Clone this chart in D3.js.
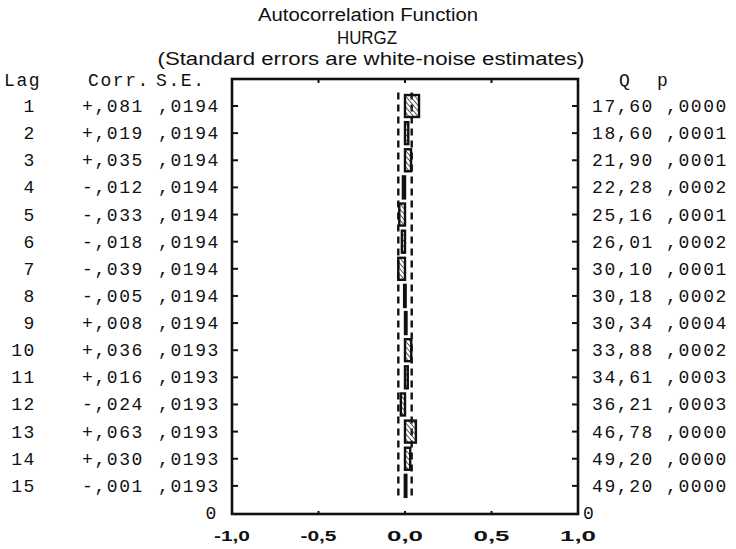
<!DOCTYPE html>
<html>
<head>
<meta charset="utf-8">
<script src="https://cdn.jsdelivr.net/npm/d3@7"></script>
<style>
  body { margin: 0; background: #fff; }
  .mono { font-family: "Liberation Mono", "DejaVu Sans Mono", monospace; font-size: 18px; letter-spacing: 1.6px; fill: #111; }
  .sans { font-family: "Liberation Sans", Arial, sans-serif; fill: #111; }
</style>
</head>
<body>
<script>
// data
var lags = [1, 2, 3, 4, 5, 6, 7, 8, 9, 10, 11, 12, 13, 14, 15];
var corrLabels = ["+,081", "+,019", "+,035", "-,012", "-,033", "-,018", "-,039", "-,005", "+,008", "+,036", "+,016", "-,024", "+,063", "+,030", "-,001"];
var corr = [0.081, 0.019, 0.035, -0.012, -0.033, -0.018, -0.039, -0.005, 0.008, 0.036, 0.016, -0.024, 0.063, 0.030, -0.001];
var seLabels = [",0194", ",0194", ",0194", ",0194", ",0194", ",0194", ",0194", ",0194", ",0194", ",0193", ",0193", ",0193", ",0193", ",0193", ",0193"];
var se = [0.0194, 0.0194, 0.0194, 0.0194, 0.0194, 0.0194, 0.0194, 0.0194, 0.0194, 0.0193, 0.0193, 0.0193, 0.0193, 0.0193, 0.0193];
var qLabels = ["17,60", "18,60", "21,90", "22,28", "25,16", "26,01", "30,10", "30,18", "30,34", "33,88", "34,61", "36,21", "46,78", "49,20", "49,20"];
var pLabels = [",0000", ",0001", ",0001", ",0002", ",0001", ",0002", ",0001", ",0002", ",0004", ",0002", ",0003", ",0003", ",0000", ",0000", ",0000"];
var xTicks = [-1, -0.5, 0, 0.5, 1];
var xTickLabels = ["-1,0", "-0,5", "0,0", "0,5", "1,0"];

(function(d3) {
  var width = 736,
      height = 549;

  var svg = d3.select("body").append("svg")
      .attr("width", width)
      .attr("height", height);

  var fLeft = 232, fRight = 578, fTop = 79, fBottom = 514;

  var x = d3.scaleLinear().domain([-1, 1]).range([fLeft, fRight]);
  // row 16 is the "0" line at the bottom of the frame
  var y = d3.scaleLinear().domain([1, 16]).range([106, 513]);
  var rowH = y(2) - y(1);

  // hatch fill for the bars
  svg.append("defs").append("pattern")
      .attr("id", "hatch")
      .attr("patternUnits", "userSpaceOnUse")
      .attr("width", 3.5).attr("height", 3.5)
      .attr("patternTransform", "rotate(-40)")
    .append("line")
      .attr("x1", 0).attr("y1", 0).attr("x2", 0).attr("y2", 3.5)
      .attr("stroke", "#444").attr("stroke-width", 1.7);

  function sans(txt, cx, by, w, size, weight) {
    svg.append("text").attr("class", "sans")
      .attr("x", cx).attr("y", by)
      .attr("text-anchor", "middle")
      .attr("font-size", size)
      .attr("font-weight", weight || "normal")
      .attr("textLength", w)
      .attr("lengthAdjust", "spacingAndGlyphs")
      .text(txt);
  }

  function mono(txt, xx, yy, anchor) {
    svg.append("text").attr("class", "mono")
      .attr("x", xx).attr("y", yy)
      .attr("text-anchor", anchor || "end")
      .text(txt);
  }

  // titles
  sans("Autocorrelation Function", 368, 21, 220, 18);
  sans("HURGZ", 367, 44, 60, 19);
  sans("(Standard errors are white-noise estimates)", 371, 65, 427, 18);

  // column headers
  mono("Lag", 4, 86, "start");
  mono("Corr.", 88, 86, "start");
  mono("S.E.", 156, 86, "start");
  mono("Q", 619, 86, "start");
  mono("p", 657, 86, "start");

  // table rows
  lags.forEach(function(l, i) {
    var yy = y(l) + 6;
    mono(String(l), 36, yy);
    mono(corrLabels[i], 144, yy);
    mono(seLabels[i], 220, yy);
    mono(qLabels[i], 654, yy);
    mono(pLabels[i], 728, yy);
  });
  mono("0", 218, y(16) + 6);
  mono("0", 583, y(16) + 6, "start");

  // confidence bands (+-2 S.E.), dashed
  var band = d3.line().x(function(d) { return d[0]; }).y(function(d) { return d[1]; });
  [1, -1].forEach(function(sign) {
    var pts = [];
    lags.forEach(function(l, i) {
      pts.push([x(sign * 2 * se[i]), y(l) - rowH / 2]);
      pts.push([x(sign * 2 * se[i]), y(l) + rowH / 2]);
    });
    svg.append("path")
      .attr("d", band(pts))
      .attr("fill", "none")
      .attr("stroke", "#111")
      .attr("stroke-width", 2.4)
      .attr("stroke-dasharray", "7,5");
  });

  // bars
  var barH = 22;
  svg.selectAll("rect.bar")
      .data(corr)
    .enter().append("rect")
      .attr("class", "bar")
      .attr("x", function(d) { return Math.min(x(0), x(d)); })
      .attr("width", function(d) { return Math.max(1.5, Math.abs(x(d) - x(0))); })
      .attr("y", function(d, i) { return y(lags[i]) - barH / 2; })
      .attr("height", barH)
      .attr("fill", "url(#hatch)")
      .attr("stroke", "#111")
      .attr("stroke-width", 2.4);

  // frame
  svg.append("rect")
      .attr("x", fLeft).attr("y", fTop)
      .attr("width", fRight - fLeft).attr("height", fBottom - fTop)
      .attr("fill", "none")
      .attr("stroke", "#111")
      .attr("stroke-width", 2.6);

  // row ticks on both sides
  lags.forEach(function(l) {
    svg.append("line").attr("x1", fLeft).attr("x2", fLeft + 6)
      .attr("y1", y(l)).attr("y2", y(l))
      .attr("stroke", "#111").attr("stroke-width", 2);
    svg.append("line").attr("x1", fRight - 6).attr("x2", fRight)
      .attr("y1", y(l)).attr("y2", y(l))
      .attr("stroke", "#111").attr("stroke-width", 2);
  });

  // x ticks on top and bottom
  xTicks.slice(1, 4).forEach(function(t) {
    svg.append("line").attr("x1", x(t)).attr("x2", x(t))
      .attr("y1", fTop).attr("y2", fTop + 4)
      .attr("stroke", "#111").attr("stroke-width", 2);
    svg.append("line").attr("x1", x(t)).attr("x2", x(t))
      .attr("y1", fBottom - 3).attr("y2", fBottom)
      .attr("stroke", "#111").attr("stroke-width", 2);
  });

  // x tick labels
  xTicks.forEach(function(t, i) {
    sans(xTickLabels[i], x(t), 541, 36, 15, "bold");
  });
})(d3);
</script>
</body>
</html>
